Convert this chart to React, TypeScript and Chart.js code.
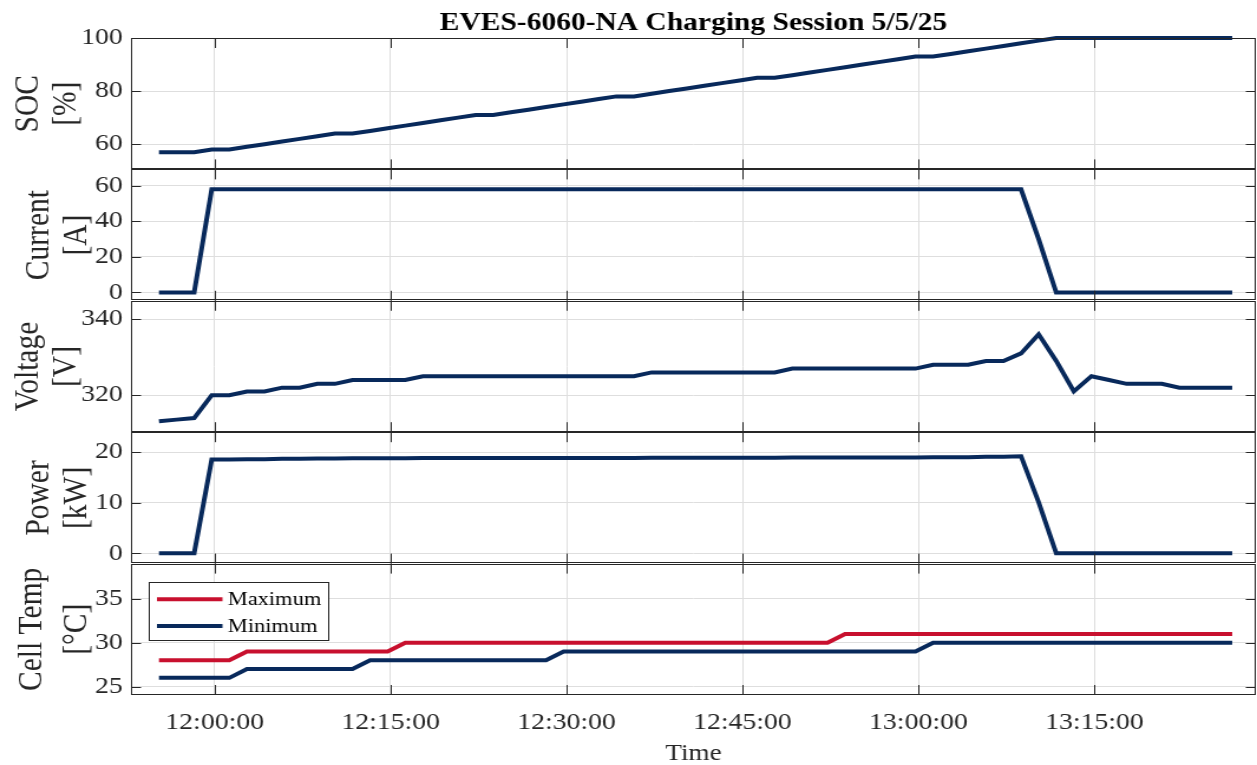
import React, { useEffect, useRef } from 'react';
import { Chart, registerables } from 'chart.js';

Chart.register(...registerables);

// ---------------- data ----------------
const timeLabels = [
  '11:55:15', '11:56:45', '11:58:15', '11:59:45', '12:01:15', '12:02:45', '12:04:15', '12:05:45',
  '12:07:15', '12:08:45', '12:10:15', '12:11:45', '12:13:15', '12:14:45', '12:16:15', '12:17:45',
  '12:19:15', '12:20:45', '12:22:15', '12:23:45', '12:25:15', '12:26:45', '12:28:15', '12:29:45',
  '12:31:15', '12:32:45', '12:34:15', '12:35:45', '12:37:15', '12:38:45', '12:40:15', '12:41:45',
  '12:43:15', '12:44:45', '12:46:15', '12:47:45', '12:49:15', '12:50:45', '12:52:15', '12:53:45',
  '12:55:15', '12:56:45', '12:58:15', '12:59:45', '13:01:15', '13:02:45', '13:04:15', '13:05:45',
  '13:07:15', '13:08:45', '13:10:15', '13:11:45', '13:13:15', '13:14:45', '13:16:15', '13:17:45',
  '13:19:15', '13:20:45', '13:22:15', '13:23:45', '13:25:15', '13:26:45',
];

const socValues = [
  57, 57, 57, 58, 58, 59, 60, 61, 62, 63, 64, 64, 65, 66, 67, 68,
  69, 70, 71, 71, 72, 73, 74, 75, 76, 77, 78, 78, 79, 80, 81, 82,
  83, 84, 85, 85, 86, 87, 88, 89, 90, 91, 92, 93, 93, 94, 95, 96,
  97, 98, 99, 100, 100, 100, 100, 100, 100, 100, 100, 100, 100, 100,
];

const currentValues = [
  0, 0, 0, 58, 58, 58, 58, 58, 58, 58, 58, 58, 58, 58, 58, 58,
  58, 58, 58, 58, 58, 58, 58, 58, 58, 58, 58, 58, 58, 58, 58, 58,
  58, 58, 58, 58, 58, 58, 58, 58, 58, 58, 58, 58, 58, 58, 58, 58,
  58, 58, 30, 0, 0, 0, 0, 0, 0, 0, 0, 0, 0, 0,
];

const voltageValues = [
  313.2, 313.6, 314.0, 320, 320, 321, 321, 322, 322, 323, 323, 324, 324, 324, 324, 325,
  325, 325, 325, 325, 325, 325, 325, 325, 325, 325, 325, 325, 326, 326, 326, 326,
  326, 326, 326, 326, 327, 327, 327, 327, 327, 327, 327, 327, 328, 328, 328, 329,
  329, 331, 336, 329, 321, 325, 324, 323, 323, 323, 322, 322, 322, 322,
];

const powerValues = [
  0, 0, 0, 18.56, 18.56, 18.62, 18.62, 18.68, 18.68, 18.73, 18.73, 18.79, 18.79, 18.79, 18.79, 18.85,
  18.85, 18.85, 18.85, 18.85, 18.85, 18.85, 18.85, 18.85, 18.85, 18.85, 18.85, 18.85, 18.91, 18.91, 18.91, 18.91,
  18.91, 18.91, 18.91, 18.91, 18.97, 18.97, 18.97, 18.97, 18.97, 18.97, 18.97, 18.97, 19.02, 19.02, 19.02, 19.08,
  19.08, 19.2, 10.1, 0, 0, 0, 0, 0, 0, 0, 0, 0, 0, 0,
];

const tempMaxValues = [
  28, 28, 28, 28, 28, 29, 29, 29, 29, 29, 29, 29, 29, 29, 30, 30,
  30, 30, 30, 30, 30, 30, 30, 30, 30, 30, 30, 30, 30, 30, 30, 30,
  30, 30, 30, 30, 30, 30, 30, 31, 31, 31, 31, 31, 31, 31, 31, 31,
  31, 31, 31, 31, 31, 31, 31, 31, 31, 31, 31, 31, 31, 31,
];

const tempMinValues = [
  26, 26, 26, 26, 26, 27, 27, 27, 27, 27, 27, 27, 28, 28, 28, 28,
  28, 28, 28, 28, 28, 28, 28, 29, 29, 29, 29, 29, 29, 29, 29, 29,
  29, 29, 29, 29, 29, 29, 29, 29, 29, 29, 29, 29, 30, 30, 30, 30,
  30, 30, 30, 30, 30, 30, 30, 30, 30, 30, 30, 30, 30, 30,
];

const xTickLabels = ['12:00:00', '12:15:00', '12:30:00', '12:45:00', '13:00:00', '13:15:00'];
const xLimits = ['11:52:52', '13:28:46'];
const socTicks = [60, 80, 100];
const currentTicks = [0, 20, 40, 60];
const voltageTicks = [320, 340];
const powerTicks = [0, 10, 20];
const tempTicks = [25, 30, 35];

const chartTitle = 'EVES-6060-NA Charging Session 5/5/25';
const xTitle = 'Time';
const tempLegendLabels = ['Maximum', 'Minimum'];

// ---------------- styling ----------------
const NAVY = '#08295B';
const RED = '#C8102E';
const GRID = '#DEDEDE';
const AXIS = '#262626';
const SERIF = '"Liberation Serif", "Times New Roman", Times, serif';
const CANVAS_W = 1065; // drawn narrower, then stretched to 1257 like the reference
const CANVAS_H = 765;
const AXIS_W = 111;
const LINE_W = 4;

const toMin = (s: string) => {
  const [h, m, sec] = s.split(':').map(Number);
  return h * 60 + m + sec / 60;
};
const pad2 = (n: number) => String(n).padStart(2, '0');
const fmtTime = (v: number) => {
  const tot = Math.round(v * 60);
  return `${pad2(Math.floor(tot / 3600))}:${pad2(Math.floor((tot % 3600) / 60))}:${pad2(tot % 60)}`;
};

const xs = timeLabels.map(toMin);
const series = (vals: number[]) => vals.map((y, i) => ({ x: xs[i], y }));

type Panel = {
  id: string;
  title: string[];
  min: number;
  max: number;
  ticks: number[];
  weight: number;
  lh: number;
  tp: number;
};

const panels: Panel[] = [
  { id: 'ySOC', title: ['SOC', '[%]'], min: 50.5, max: 100, ticks: socTicks, weight: 5, lh: 31.5, tp: 8.5 },
  { id: 'yCur', title: ['Current', '[A]'], min: -4.7, max: 69.2, ticks: currentTicks, weight: 4, lh: 31.5, tp: 17.5 },
  { id: 'yVolt', title: ['Voltage', '[V]'], min: 310.3, max: 344.8, ticks: voltageTicks, weight: 3, lh: 31.5, tp: 8.5 },
  { id: 'yPow', title: ['Power', '[kW]'], min: -2.03, max: 23.95, ticks: powerTicks, weight: 2, lh: 31.5, tp: 17.5 },
  { id: 'yTemp', title: ['Cell Temp', '[°C]'], min: 24.05, max: 39, ticks: tempTicks, weight: 1, lh: 37.5, tp: 8.5 },
];

const framePlugin = {
  id: 'matlabFrame',
  afterDatasetsDraw(chart: any) {
    const ctx = chart.ctx;
    const { left, right } = chart.chartArea;
    const xScale = chart.scales.x;
    ctx.save();
    ctx.strokeStyle = AXIS;
    ctx.lineWidth = 1;
    for (const p of panels) {
      const s = chart.scales[p.id];
      const top = s.top;
      const bottom = s.bottom;
      ctx.beginPath();
      for (const t of xScale.ticks) {
        const px = Math.round(xScale.getPixelForValue(t.value)) + 0.5;
        ctx.moveTo(px, top);
        ctx.lineTo(px, top + 10);
        ctx.moveTo(px, bottom);
        ctx.lineTo(px, bottom - 10);
      }
      for (const t of s.ticks) {
        const py = Math.round(s.getPixelForValue(t.value)) + 0.5;
        ctx.moveTo(left, py);
        ctx.lineTo(left + 8.5, py);
        ctx.moveTo(right, py);
        ctx.lineTo(right - 8.5, py);
      }
      ctx.stroke();
      ctx.strokeRect(Math.round(left) + 0.5, Math.round(top) + 0.5, Math.round(right - left) - 1, Math.round(bottom - top) - 1);
    }
    ctx.restore();
  },
};

const legendPlugin = {
  id: 'boxLegend',
  afterDraw(chart: any) {
    const ctx = chart.ctx;
    const s = chart.scales.yTemp;
    const bx = Math.round(chart.chartArea.left + 14.6);
    const by = Math.round(s.top + 18.7);
    const bw = 152;
    const bh = 58;
    ctx.save();
    ctx.fillStyle = '#FFFFFF';
    ctx.fillRect(bx, by, bw, bh);
    ctx.strokeStyle = AXIS;
    ctx.lineWidth = 1;
    ctx.strokeRect(bx + 0.5, by + 0.5, bw, bh);
    const items = chart.data.datasets.filter((d: any) => d.yAxisID === 'yTemp');
    items.forEach((d: any, k: number) => {
      const cy = by + 17.3 + k * 26.7;
      ctx.strokeStyle = d.borderColor;
      ctx.lineWidth = LINE_W;
      ctx.beginPath();
      ctx.moveTo(bx + 7, cy);
      ctx.lineTo(bx + 62.5, cy);
      ctx.stroke();
      ctx.fillStyle = '#000000';
      ctx.font = `19px ${SERIF}`;
      ctx.textBaseline = 'middle';
      ctx.textAlign = 'left';
      ctx.fillText(d.label, bx + 67, cy + 1);
    });
    ctx.restore();
  },
};

export default function App() {
  const ref = useRef<HTMLCanvasElement | null>(null);

  useEffect(() => {
    if (!ref.current) return;
    const tickFont = { family: SERIF, size: 23.5 };

    const scales: any = {
      x: {
        type: 'linear',
        position: 'bottom',
        min: toMin(xLimits[0]),
        max: toMin(xLimits[1]),
        afterBuildTicks: (s: any) => {
          s.ticks = xTickLabels.map((l) => ({ value: toMin(l) }));
        },
        afterFit: (s: any) => {
          s.height = 70;
        },
        grid: { color: GRID, lineWidth: 1, drawTicks: false },
        border: { display: false },
        ticks: {
          callback: (v: any) => fmtTime(Number(v)),
          font: tickFont,
          color: AXIS,
          padding: 14,
          maxRotation: 0,
          autoSkip: false,
        },
        title: {
          display: true,
          text: xTitle,
          color: AXIS,
          font: { family: SERIF, size: 23, lineHeight: 1 },
          padding: { top: 0, bottom: 0 },
        },
      },
    };

    for (const p of panels) {
      scales[p.id] = {
        type: 'linear',
        position: 'left',
        stack: 'panels',
        stackWeight: 1,
        weight: p.weight,
        min: p.min,
        max: p.max,
        afterBuildTicks: (s: any) => {
          s.ticks = p.ticks.map((v) => ({ value: v }));
        },
        afterFit: (s: any) => {
          s.width = AXIS_W;
        },
        grid: { color: GRID, lineWidth: 1, drawTicks: false },
        border: { display: false },
        ticks: {
          callback: (v: any) => String(v),
          font: tickFont,
          color: AXIS,
          padding: 7,
          autoSkip: false,
        },
        title: {
          display: true,
          text: p.title,
          color: AXIS,
          font: { family: SERIF, size: 29.5, lineHeight: `${p.lh}px` },
          padding: { top: p.tp, bottom: 0 },
        },
      };
    }

    const lineDs = (label: string, vals: number[], yAxisID: string, color: string) => ({
      label,
      data: series(vals),
      yAxisID,
      xAxisID: 'x',
      borderColor: color,
      backgroundColor: color,
      borderWidth: LINE_W,
      pointRadius: 0,
      tension: 0,
      fill: false,
      clip: 4,
    });

    const chart = new Chart(ref.current, {
      type: 'line',
      data: {
        datasets: [
          lineDs('SOC', socValues, 'ySOC', NAVY),
          lineDs('Current', currentValues, 'yCur', NAVY),
          lineDs('Voltage', voltageValues, 'yVolt', NAVY),
          lineDs('Power', powerValues, 'yPow', NAVY),
          lineDs(tempLegendLabels[0], tempMaxValues, 'yTemp', RED),
          lineDs(tempLegendLabels[1], tempMinValues, 'yTemp', NAVY),
        ],
      },
      options: {
        responsive: false,
        maintainAspectRatio: false,
        animation: false,
        devicePixelRatio: 1,
        parsing: false as any,
        normalized: true,
        layout: { padding: { left: 0, right: 1, top: 0, bottom: 0 } },
        scales,
        plugins: {
          legend: { display: false },
          tooltip: { enabled: false },
          title: {
            display: true,
            text: chartTitle,
            color: '#000000',
            fullSize: false,
            font: { family: SERIF, size: 25, weight: 'bold', lineHeight: '28px' },
            padding: { top: 10, bottom: 0 },
          },
        },
      } as any,
      plugins: [framePlugin, legendPlugin],
    });

    return () => chart.destroy();
  }, []);

  return (
    <div style={{ position: 'absolute', left: 0, top: 0, width: 1257, height: CANVAS_H, background: '#FFFFFF' }}>
      <canvas
        ref={ref}
        width={CANVAS_W}
        height={CANVAS_H}
        style={{ width: '1257px', height: `${CANVAS_H}px`, display: 'block' }}
      />
    </div>
  );
}
